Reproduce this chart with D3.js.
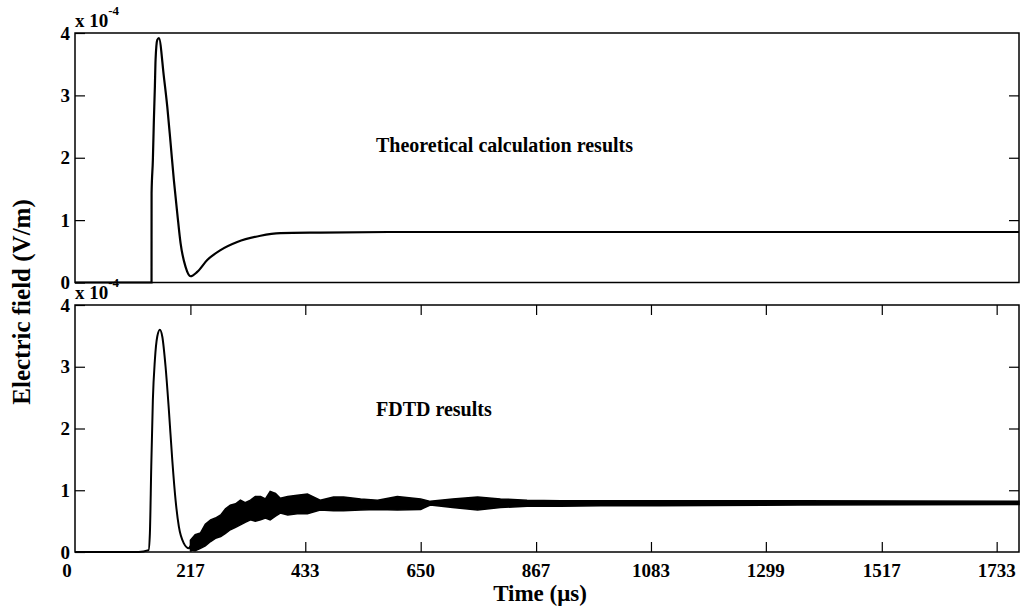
<!DOCTYPE html>
<html>
<head>
<meta charset="utf-8">
<script src="https://cdn.jsdelivr.net/npm/d3@7"></script>
<style>
  body { margin: 0; background: #fff; }
  text { font-family: "Liberation Serif", "Times New Roman", serif; font-weight: bold; fill: #000; }
</style>
</head>
<body>
<svg width="1021" height="607"></svg>
<script>
// x axis (time, us)
var xTicks = [0, 217, 433, 650, 867, 1083, 1299, 1517, 1733];
var xMax = 1775;
// y axis (x 10^-4 V/m)
var yTicks = [0, 1, 2, 3, 4];

// theoretical calculation (top panel)
var theoryTime  = [0, 143.9, 144, 146.4, 148.3, 150.2, 151.5, 154.7, 157.7, 167.1, 173.5, 179.7, 185.9, 192.3, 198.5, 207.9, 217.3, 229.8, 248.6, 273.6, 305, 348.8, 386.4, 461.6, 612, 1775];
var theoryField = [0, 0, 1.43, 1.96, 2.60, 3.14, 3.57, 3.89, 3.92, 3.30, 2.82, 2.24, 1.64, 1.11, 0.63, 0.25, 0.10, 0.17, 0.36, 0.52, 0.65, 0.75, 0.79, 0.80, 0.81, 0.81];

// FDTD (bottom panel): smooth pulse, then oscillating band (upper / lower envelope)
var fdtdTime  = [0, 119.5, 138.3, 140.8, 143.4, 146.4, 150.2, 154.7, 159.6, 164.1, 170.3, 176.5, 182.9, 189.1, 195.3, 204.7, 214.1, 217];
var fdtdField = [0, 0, 0.03, 0.30, 1.38, 2.46, 3.11, 3.49, 3.60, 3.49, 3.00, 2.30, 1.49, 0.84, 0.41, 0.14, 0.06, 0.10];

var bandTime  = [217, 226, 236, 245, 255, 264, 274, 283, 292, 302, 311, 320, 330, 339, 349, 358, 367, 377, 386, 400, 418, 437, 461, 486, 505, 537, 569, 606, 650, 668, 710, 757, 800, 850, 913, 988, 1100, 1364, 1775];
var bandUpper = [0.19, 0.28, 0.31, 0.45, 0.52, 0.55, 0.60, 0.70, 0.76, 0.78, 0.84, 0.80, 0.84, 0.90, 0.90, 0.86, 0.98, 0.95, 0.87, 0.90, 0.92, 0.94, 0.84, 0.89, 0.89, 0.86, 0.84, 0.90, 0.86, 0.82, 0.86, 0.89, 0.86, 0.84, 0.83, 0.83, 0.83, 0.83, 0.82];
var bandLower = [0.03, 0.02, 0.06, 0.10, 0.17, 0.22, 0.25, 0.30, 0.36, 0.40, 0.44, 0.48, 0.52, 0.50, 0.52, 0.55, 0.52, 0.58, 0.63, 0.60, 0.62, 0.62, 0.68, 0.67, 0.67, 0.68, 0.69, 0.68, 0.69, 0.76, 0.72, 0.68, 0.72, 0.74, 0.74, 0.75, 0.75, 0.76, 0.77];

var svg = d3.select("svg");
var left = 75, right = 1019;

var x = d3.scaleLinear().domain([0, xMax]).range([left, right]);
var yTop = d3.scaleLinear().domain([0, 4]).range([282.5, 33]);
var yBot = d3.scaleLinear().domain([0, 4]).range([552, 305]);

function styleAxis(g) {
  g.select(".domain").remove();
  g.selectAll("line").attr("stroke", "#000").attr("stroke-width", 1.2);
  g.attr("font-family", null).attr("font-size", null);
  g.selectAll("text").style("font-size", "19px");
}

function panel(y, withX) {
  var g = svg.append("g");
  g.append("g").attr("transform", "translate(" + left + ",0)")
    .call(d3.axisLeft(y).tickValues(yTicks).tickSize(-10).tickPadding(5).tickFormat(d3.format("d")))
    .call(styleAxis);
  g.append("g").attr("transform", "translate(" + right + ",0)")
    .call(d3.axisRight(y).tickValues(yTicks.slice(1, 4)).tickSize(-10).tickFormat(""))
    .call(styleAxis);
  if (withX) {
    g.append("g").attr("transform", "translate(0," + y.range()[0] + ")")
      .call(d3.axisBottom(x).tickValues(xTicks.slice(1)).tickSize(-10).tickFormat(""))
      .call(styleAxis);
    g.append("g").attr("transform", "translate(0," + y.range()[1] + ")")
      .call(d3.axisTop(x).tickValues(xTicks.slice(1)).tickSize(-10).tickFormat(""))
      .call(styleAxis);
  }
  return g;
}

// curves
var lineTop = d3.line().curve(d3.curveMonotoneX)
  .x(function(d, i){ return x(theoryTime[i]); }).y(function(d){ return yTop(d); });
svg.append("path").attr("d", lineTop(theoryField))
  .attr("fill", "none").attr("stroke", "#000").attr("stroke-width", 2.2);

var lineBot = d3.line().curve(d3.curveMonotoneX)
  .x(function(d, i){ return x(fdtdTime[i]); }).y(function(d){ return yBot(d); });
svg.append("path").attr("d", lineBot(fdtdField))
  .attr("fill", "none").attr("stroke", "#000").attr("stroke-width", 2);

var band = d3.area()
  .x(function(d, i){ return x(bandTime[i]); })
  .y0(function(d, i){ return yBot(bandLower[i]); })
  .y1(function(d){ return yBot(d); });
svg.append("path").attr("d", band(bandUpper))
  .attr("fill", "#000").attr("stroke", "#000").attr("stroke-width", 1.5);

// exponent labels
function expo(yBase) {
  var t = svg.append("text").attr("x", 75).attr("y", yBase).style("font-size", "19px");
  t.append("tspan").text("x 10");
  t.append("tspan").attr("dy", -12).style("font-size", "13px").text("-4");
}
expo(27);
expo(299);

panel(yTop, false);
panel(yBot, true);

// frames
svg.append("rect").attr("x", left).attr("y", 33).attr("width", right - left).attr("height", 282.5 - 33)
  .attr("fill", "none").attr("stroke", "#000").attr("stroke-width", 1.5);
svg.append("rect").attr("x", left).attr("y", 305).attr("width", right - left).attr("height", 552 - 305)
  .attr("fill", "none").attr("stroke", "#000").attr("stroke-width", 1.5);

// x tick labels
svg.append("g").selectAll("text").data(xTicks).join("text")
  .attr("x", function(d){ return d === 0 ? x(d) - 8 : x(d); })
  .attr("y", 577)
  .attr("text-anchor", "middle")
  .style("font-size", "19px")
  .text(function(d){ return d; });

// annotations
svg.append("text").attr("x", 376).attr("y", 152).style("font-size", "20px").text("Theoretical calculation results");
svg.append("text").attr("x", 376).attr("y", 416).style("font-size", "20px").text("FDTD results");

// axis titles
svg.append("text").attr("x", 540).attr("y", 601).attr("text-anchor", "middle").style("font-size", "23px").text("Time (\u03bcs)");
svg.append("text").attr("transform", "translate(30,302) rotate(-90)").attr("text-anchor", "middle")
  .style("font-size", "25px").text("Electric field (V/m)");
</script>
</body>
</html>
